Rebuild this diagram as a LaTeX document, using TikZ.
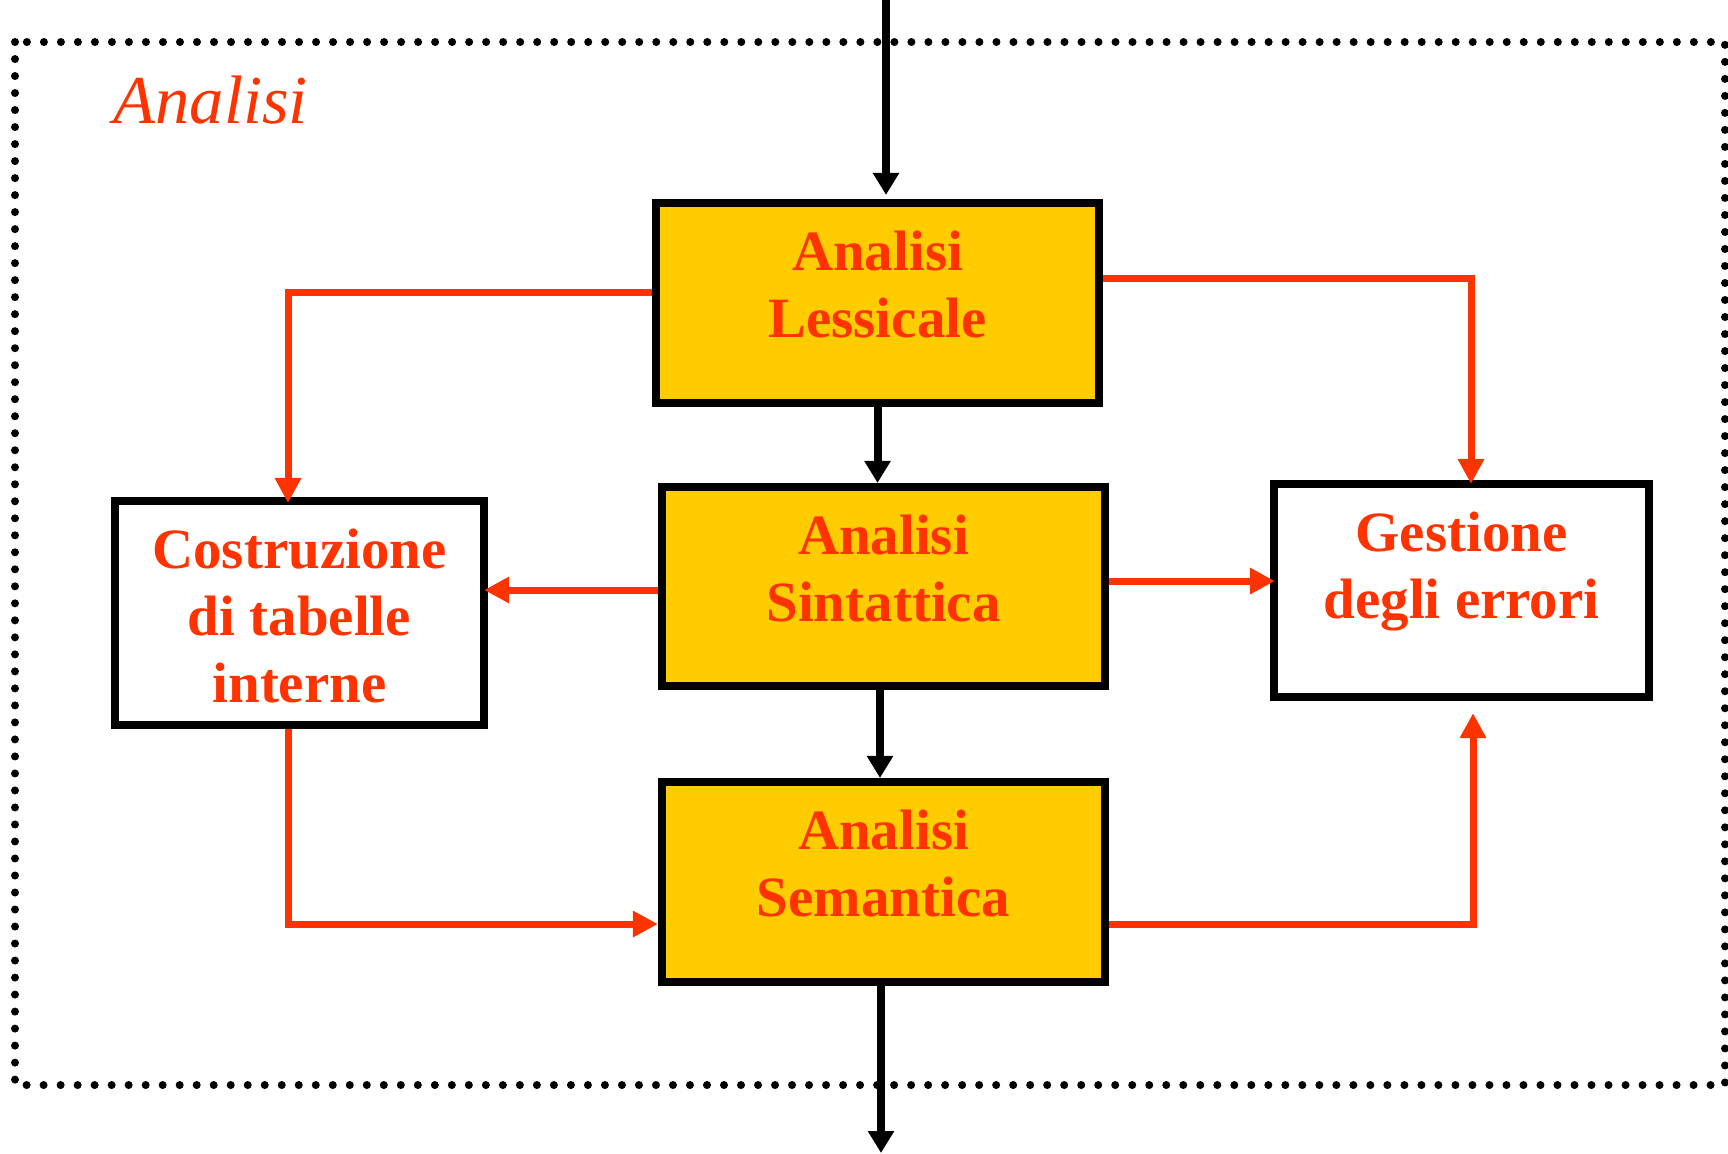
\documentclass[tikz,border=0pt]{standalone}
\usepackage{fontspec}
\setmainfont{Liberation Serif}
\usetikzlibrary{arrows.meta}
\definecolor{errred}{RGB}{255,51,0}
\definecolor{stageyellow}{RGB}{255,204,0}

\begin{document}
\begin{tikzpicture}[
    x=0.01cm,
    y=-0.01cm,
    box/.style={draw, rectangle, line width=0.08cm, inner sep=0pt},
    stage/.style={box, fill=stageyellow, minimum width=4.43cm, minimum height=2cm},
    boxtext/.style={anchor=north, align=center, inner sep=0pt, text=errred,
      font=\bfseries\fontsize{16.2}{19.1}\selectfont},
    main/.style={line width=0.08cm,
      -{Triangle[length=0.22cm, width=0.25cm]}},
    flow/.style={errred, line width=0.07cm,
      -{Triangle[length=0.25cm, width=0.25cm]}}]

    \useasboundingbox (0,0) rectangle (1728,1153);

    % Frame
    \draw[line width=0.08cm, line cap=round, dash pattern=on 0pt off 0.17cm]
      (15,42) rectangle (1725,1085);
    \node[anchor=base west, inner sep=0pt, text=errred,
      font=\itshape\fontsize{19.5}{23}\selectfont] (title) at (113,123) {Analisi};

    % Phases
    \node[stage] (less) at (877.5,303) {};
    \node[stage, minimum height=1.99cm] (sint) at (883.5,586.5) {};
    \node[stage] (sem) at (883.5,882) {};

    % Side boxes
    \node[box, minimum width=3.69cm, minimum height=2.24cm] (cost) at (299.5,613) {};
    \node[box, minimum width=3.75cm, minimum height=2.13cm] (gest) at (1461.5,590.5) {};

    % Texts
    \foreach \b/\t in {less/{Analisi\\Lessicale}, sint/{Analisi\\Sintattica},
                       sem/{Analisi\\Semantica}, cost/{Costruzione\\di tabelle\\interne},
                       gest/{Gestione\\degli errori}}
      \node[boxtext] (\b-text) at ([yshift=-0.31cm]\b.north) {\t};

    % Main flow
    \coordinate (in) at (886,0);
    \coordinate (out) at (881,1153);
    \draw[main, shorten >=0.04cm] (in) -- (in |- less.north);
    \draw[main] (less.south) -- (less.south |- sint.north);
    \draw[main] (880,0 |- sint.south) -- (880,0 |- sem.north);
    \draw[main] (out |- sem.south) -- (out);

    % Tables and errors
    \draw[flow, shorten >=-0.06cm] (less.west |- 0,292) -| (288,0 |- cost.north);
    \draw[flow, shorten >=-0.04cm] (less.east |- 0,278) -| (1471,0 |- gest.north);
    \draw[flow, shorten >=-0.04cm] (sint.west |- 0,590) -- (cost.east |- 0,590);
    \draw[flow, shorten >=-0.05cm] (sint.east |- 0,581) -- (gest.west |- 0,581);
    \draw[flow] (288,0 |- cost.south) |- (sem.west |- 0,924);
    \draw[flow] (sem.east |- 0,924) -| ([shift={(11.5,12)}]gest.south);
  \end{tikzpicture}
\end{document}
